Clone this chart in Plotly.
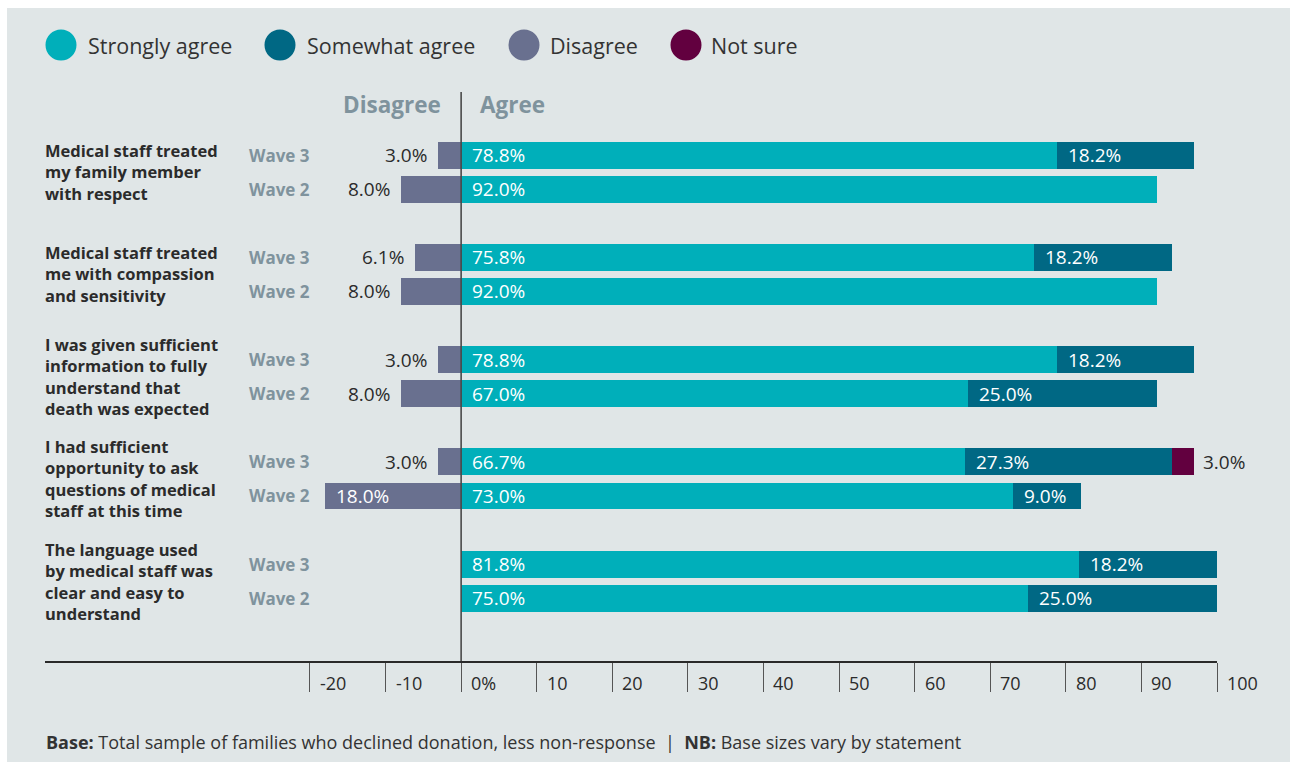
import plotly.graph_objects as go

# ---- data -------------------------------------------------------------
statements = [
    ["Medical staff treated", "my family member", "with respect"],
    ["Medical staff treated", "me with compassion", "and sensitivity"],
    ["I was given sufficient", "information to fully", "understand that", "death was expected"],
    ["I had sufficient", "opportunity to ask", "questions of medical", "staff at this time"],
    ["The language used", "by medical staff was", "clear and easy to", "understand"],
]
waves = ["Wave 3", "Wave 2"]

# one value per bar, ordered statement by statement: Wave 3 then Wave 2
disagree = [3.0, 8.0, 6.1, 8.0, 3.0, 8.0, 3.0, 18.0, 0.0, 0.0]
strongly_agree = [78.8, 92.0, 75.8, 92.0, 78.8, 67.0, 66.7, 73.0, 81.8, 75.0]
somewhat_agree = [18.2, 0.0, 18.2, 0.0, 18.2, 25.0, 27.3, 9.0, 18.2, 25.0]
not_sure = [0.0, 0.0, 0.0, 0.0, 0.0, 0.0, 3.0, 0.0, 0.0, 0.0]

tick_values = [-20, -10, 0, 10, 20, 30, 40, 50, 60, 70, 80, 90, 100]
tick_labels = ["-20", "-10", "0%", "10", "20", "30", "40", "50", "60", "70", "80", "90", "100"]

legend_names = ["Strongly agree", "Somewhat agree", "Disagree", "Not sure"]

# ---- style ------------------------------------------------------------
C_STRONG = "#00AFBA"
C_SOME = "#006884"
C_DIS = "#69708F"
C_NS = "#62003F"
BG = "#E0E6E7"
DARK = "#2B2B2B"
MUTED = "#7F939D"
FONT = "Open Sans"

W, H = 1290, 767
L, R, T, B = 45, 73, 92, 106
PW, PH = W - L - R, H - T - B

PX_PER_UNIT = 7.56
X_MIN = -20 - (310 - L) / PX_PER_UNIT
X_MAX = 100
Y_TOP, Y_BOTTOM = -1.85, 14.84


def px(x):
    return (x - L) / PW


def py(y):
    return (H - B - y) / PH


# y position of every bar: statements are 3 units apart, waves 1 unit apart
ypos = [g * 3 + w for g in range(len(statements)) for w in range(len(waves))]
wave_of_bar = [waves[w] for g in range(len(statements)) for w in range(len(waves))]

BAR_W = 0.79

fig = go.Figure()
fig.add_trace(go.Bar(y=ypos, x=[-v for v in disagree], orientation="h",
                     marker=dict(color=C_DIS, line=dict(width=0)), width=BAR_W,
                     name="Disagree", showlegend=False, hoverinfo="skip"))
fig.add_trace(go.Bar(y=ypos, x=strongly_agree, orientation="h",
                     marker=dict(color=C_STRONG, line=dict(width=0)), width=BAR_W,
                     name="Strongly agree", showlegend=False, hoverinfo="skip"))
fig.add_trace(go.Bar(y=ypos, x=somewhat_agree, orientation="h",
                     marker=dict(color=C_SOME, line=dict(width=0)), width=BAR_W,
                     name="Somewhat agree", showlegend=False, hoverinfo="skip"))
fig.add_trace(go.Bar(y=ypos, x=not_sure, orientation="h",
                     marker=dict(color=C_NS, line=dict(width=0)), width=BAR_W,
                     name="Not sure", showlegend=False, hoverinfo="skip"))

ann = []
shapes = []

# panel background
shapes.append(dict(type="rect", xref="paper", yref="paper", x0=px(7), x1=px(W + 5),
                   y0=py(762), y1=py(8), fillcolor=BG, line=dict(width=0), layer="below"))

VAL_SIZE = 19

# value labels
for i, y in enumerate(ypos):
    d, s, m, n = disagree[i], strongly_agree[i], somewhat_agree[i], not_sure[i]
    if d > 0:
        if d >= 10:
            ann.append(dict(x=-d, y=y, xref="x", yref="y", text=f"{d:.1f}%", showarrow=False,
                            xanchor="left", xshift=9, font=dict(size=VAL_SIZE, color="white", family=FONT)))
        else:
            ann.append(dict(x=-d, y=y, xref="x", yref="y", text=f"{d:.1f}%", showarrow=False,
                            xanchor="right", xshift=-9, font=dict(size=VAL_SIZE, color=DARK, family=FONT)))
    if s > 0:
        ann.append(dict(x=0, y=y, xref="x", yref="y", text=f"{s:.1f}%", showarrow=False,
                        xanchor="left", xshift=9, font=dict(size=VAL_SIZE, color="white", family=FONT)))
    if m > 0:
        ann.append(dict(x=s, y=y, xref="x", yref="y", text=f"{m:.1f}%", showarrow=False,
                        xanchor="left", xshift=9, font=dict(size=VAL_SIZE, color="white", family=FONT)))
    if n > 0:
        ann.append(dict(x=s + m + n, y=y, xref="x", yref="y", text=f"{n:.1f}%", showarrow=False,
                        xanchor="left", xshift=7, font=dict(size=VAL_SIZE, color=DARK, family=FONT)))
    # wave label
    ann.append(dict(x=px(312), y=y, xref="paper", yref="y", text=f"<b>{wave_of_bar[i]}</b>",
                    showarrow=False, xanchor="right", yanchor="middle",
                    font=dict(size=17, color=MUTED, family=FONT)))

# statement labels, centred on each pair of bars
for g, lines in enumerate(statements):
    ann.append(dict(x=px(43), y=g * 3 + 0.5, xref="paper", yref="y",
                    text="<b>" + "<br>".join(lines) + "</b>",
                    showarrow=False, xanchor="left", yanchor="middle", align="left",
                    font=dict(size=16.5, color=DARK, family=FONT)))

# Disagree / Agree headings either side of zero
ann.append(dict(x=0, y=py(105), xref="x", yref="paper", text="<b>Disagree</b>", showarrow=False,
                xanchor="right", yanchor="middle", xshift=-18,
                font=dict(size=22.5, color=MUTED, family=FONT)))
ann.append(dict(x=0, y=py(105), xref="x", yref="paper", text="<b>Agree</b>", showarrow=False,
                xanchor="left", yanchor="middle", xshift=17,
                font=dict(size=22.5, color=MUTED, family=FONT)))

# tick labels sit to the right of each tick
for v, t in zip(tick_values, tick_labels):
    ann.append(dict(x=v, y=py(683), xref="x", yref="paper", text=t, showarrow=False,
                    xanchor="left", xshift=8, yanchor="middle",
                    font=dict(size=18, color=DARK, family=FONT)))

# zero line
shapes.append(dict(type="line", xref="x", yref="paper", x0=0, x1=0, y0=0, y1=1,
                   line=dict(color="#4A4A4A", width=1.6), layer="above"))

# legend
legend_colors = [C_STRONG, C_SOME, C_DIS, C_NS]
legend_cx = [61, 280, 524, 686]
legend_tx = [86, 305, 548, 709]
R_DOT = 15.5
for name, col, cx, tx in zip(legend_names, legend_colors, legend_cx, legend_tx):
    shapes.append(dict(type="circle", xref="paper", yref="paper",
                       x0=px(cx - R_DOT), x1=px(cx + R_DOT), y0=py(45 + R_DOT), y1=py(45 - R_DOT),
                       fillcolor=col, line=dict(width=0)))
    ann.append(dict(x=px(tx), y=py(45), xref="paper", yref="paper", text=name, showarrow=False,
                    xanchor="left", yanchor="middle", font=dict(size=21.5, color="#333333", family=FONT)))

# footnote
nb = "\u00a0\u00a0|\u00a0\u00a0"
ann.append(dict(x=px(44), y=py(742), xref="paper", yref="paper",
                text="<b>Base:</b> Total sample of families who declined donation, less non-response"
                     + nb + "<b>NB:</b> Base sizes vary by statement",
                showarrow=False, xanchor="left", yanchor="middle",
                font=dict(size=18, color="#333333", family=FONT)))

fig.update_layout(
    width=W, height=H,
    margin=dict(l=L, r=R, t=T, b=B, pad=0),
    paper_bgcolor="white", plot_bgcolor=BG,
    barmode="relative", bargap=0,
    showlegend=False,
    font=dict(family=FONT, color=DARK),
    annotations=ann, shapes=shapes,
    xaxis=dict(range=[X_MIN, X_MAX], showgrid=False, zeroline=False,
               showline=True, linecolor="#2A2A2A", linewidth=2,
               ticks="outside", ticklen=29, tickwidth=1, tickcolor="#555555",
               tickvals=tick_values, showticklabels=False, fixedrange=True),
    yaxis=dict(range=[Y_BOTTOM, Y_TOP], showgrid=False, zeroline=False, showline=False,
               showticklabels=False, ticks="", fixedrange=True),
)

fig.write_html("out.html")
